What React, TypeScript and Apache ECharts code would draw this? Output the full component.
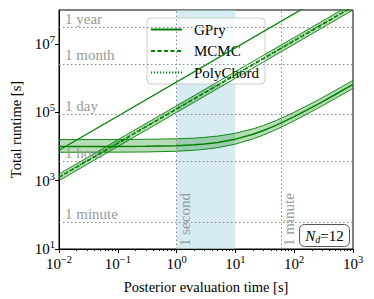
import React, { useEffect, useRef } from "react";
import * as echarts from "echarts";

const FONT = "Liberation Serif";
const GREEN = "#008000";
const BAND = "rgba(0,128,0,0.28)";

// tick positions
const xTicks = [1e-2, 1e-1, 1, 10, 100, 1000];
const yTicks = [10, 1e3, 1e5, 1e7];

// reference times
const refNames = ["1 minute", "1 hour", "1 day", "1 month", "1 year"];
const refSeconds = [60, 3600, 86400, 2.63e6, 3.15e7];
const vRefNames = ["1 second", "1 minute"];
const vRefSeconds = [1, 60];

// GPry curve
const evalTime = [0.01, 0.1, 0.3, 1, 2, 3, 5, 10, 20, 30, 50, 100, 200, 300, 500, 1000];
const gpryMid = [1.0e4, 1.007e4, 1.02e4, 1.065e4, 1.13e4, 1.195e4, 1.325e4, 1.65e4, 2.3e4, 2.95e4, 4.25e4, 7.5e4, 1.4e5, 2.05e5, 3.35e5, 6.6e5];
const gpryHigh = [1.6e4, 1.61e4, 1.63e4, 1.69e4, 1.77e4, 1.86e4, 2.03e4, 2.45e4, 3.3e4, 4.15e4, 5.85e4, 1.01e5, 1.86e5, 2.71e5, 4.41e5, 8.66e5];
const gpryLow = [6.8e3, 6.85e3, 6.95e3, 7.3e3, 7.8e3, 8.3e3, 9.3e3, 1.18e4, 1.68e4, 2.18e4, 3.18e4, 5.68e4, 1.07e5, 1.57e5, 2.57e5, 5.07e5];

// straight lines
const lineTime = [0.01, 1000];
const mcmcMid = [1.25e3, 1.25e8];
const mcmcLow = [1.0e3, 1.0e8];
const mcmcHigh = [1.57e3, 1.57e8];
const polyMid = [1.3e3, 1.3e8];
const topLine = [7.8e3, 7.8e8];

const zip = (xs: number[], ys: number[]) => xs.map((x, i) => [x, ys[i]]);

function powLabel(v: number) {
  const e = Math.round(Math.log10(v));
  const s = e < 0 ? "\u2212" + -e : String(e);
  return `{b|10}{s|${s}}`;
}
const richPow = {
  b: { fontSize: 15, fontFamily: FONT, color: "#000" },
  s: { fontSize: 10.5, fontFamily: FONT, color: "#000", padding: [0, 0, 9, 0] },
};

function bandSeries(xs: number[], lo: number[], hi: number[]) {
  return {
    type: "custom",
    coordinateSystem: "cartesian2d",
    clip: true,
    silent: true,
    z: 2,
    data: [[xs[0], lo[0]]],
    renderItem: (params: any, api: any) => {
      const up = xs.map((x, i) => api.coord([x, hi[i]]));
      const dn = xs.map((x, i) => api.coord([x, lo[i]])).reverse();
      return {
        type: "polygon",
        shape: { points: up.concat(dn) },
        style: { fill: BAND, stroke: "none" },
      };
    },
  };
}

function lineSeries(name: string | undefined, data: number[][], type: any, width: number, z = 4) {
  return {
    type: "line",
    name,
    data,
    showSymbol: false,
    symbol: "none",
    silent: true,
    z,
    lineStyle: { color: GREEN, width, type },
    itemStyle: { color: GREEN },
  };
}

export default function App() {
  const ref = useRef<HTMLDivElement>(null);
  useEffect(() => {
    const chart = echarts.init(ref.current!, null, { renderer: "svg" });
    const option: any = {
      animation: false,
      grid: { left: 57, top: 10, width: 296, height: 239, show: true, borderColor: "#000", borderWidth: 1, backgroundColor: "transparent" },
      legend: {
        data: ["GPry", "MCMC", "PolyChord"],
        orient: "vertical",
        left: 147,
        top: 18,
        padding: [4, 6, 4, 3],
        itemWidth: 31,
        itemHeight: 14,
        itemGap: 6.5,
        itemStyle: { opacity: 0 },
        backgroundColor: "rgba(255,255,255,0.8)",
        borderColor: "#ccc",
        borderWidth: 1,
        borderRadius: 4,
        textStyle: { fontFamily: FONT, fontSize: 15, color: "#000", padding: [0, 0, 0, 7] },
      },
      xAxis: [
        {
          type: "log",
          logBase: 10,
          min: 1e-2,
          max: 1e3,
          position: "bottom",
          name: "Posterior evaluation time [s]",
          nameLocation: "middle",
          nameGap: 30,
          nameTextStyle: { fontFamily: FONT, fontSize: 14.5, color: "#000" },
          axisLine: { show: true, lineStyle: { color: "#000", width: 1 } },
          axisTick: { show: true, customValues: xTicks, length: 4, lineStyle: { color: "#000" } },
          axisLabel: { customValues: xTicks, formatter: powLabel, rich: richPow, margin: 5 },
          splitLine: { show: false },
          minorTick: { show: false },
        },
        {
          type: "log",
          logBase: 10,
          min: 1e-2,
          max: 1e3,
          position: "bottom",
          axisLine: { show: false },
          axisTick: {
            show: true,
            length: 2,
            lineStyle: { color: "#000" },
            customValues: [2e-2, 3e-2, 4e-2, 5e-2, 6e-2, 7e-2, 8e-2, 9e-2, 2e-1, 3e-1, 4e-1, 5e-1, 6e-1, 7e-1, 8e-1, 9e-1, 2, 3, 4, 5, 6, 7, 8, 9, 20, 30, 40, 50, 60, 70, 80, 90, 200, 300, 400, 500, 600, 700, 800, 900],
          },
          axisLabel: { show: false },
          splitLine: { show: false },
        },
      ],
      yAxis: {
        type: "log",
        logBase: 10,
        min: 10,
        max: 1e8,
        name: "Total runtime [s]",
        nameLocation: "middle",
        nameGap: 36,
        nameTextStyle: { fontFamily: FONT, fontSize: 14.5, color: "#000" },
        axisLine: { show: true, lineStyle: { color: "#000", width: 1 } },
        axisTick: { show: true, customValues: yTicks, length: 4, lineStyle: { color: "#000" } },
        axisLabel: { customValues: yTicks, formatter: powLabel, rich: richPow, margin: 4 },
        splitLine: { show: false },
      },
      series: [
        {
          type: "line",
          name: "refs",
          data: [[1e-2, 10]],
          symbol: "none",
          silent: true,
          z: 1,
          lineStyle: { width: 0, opacity: 0 },
          markArea: {
            silent: true,
            itemStyle: { color: "rgba(173,216,230,0.5)" },
            data: [[{ xAxis: vRefSeconds[0] }, { xAxis: 10 }]],
          },
          markLine: {
            silent: true,
            symbol: "none",
            lineStyle: { color: "#888", type: [1.5, 2.5], width: 1 },
            data: [
              ...refSeconds.map((v, i) => ({
                yAxis: v,
                name: refNames[i],
                label: { show: true, position: "insideStartTop", formatter: "{b}", color: "#999", fontFamily: FONT, fontSize: 15, distance: [6, 1] },
              })),
              ...vRefSeconds.map((v, i) => ({
                xAxis: v,
                name: vRefNames[i],
                label: { show: false },
              })),
            ],
          },
        },
        bandSeries(evalTime, gpryLow, gpryHigh),
        bandSeries(lineTime, mcmcLow, mcmcHigh),
        lineSeries(undefined, zip(lineTime, topLine), "solid", 1.3),
        lineSeries(undefined, zip(lineTime, mcmcLow), "solid", 0.9),
        lineSeries(undefined, zip(lineTime, mcmcHigh), "solid", 0.9),
        lineSeries(undefined, zip(evalTime, gpryLow), "solid", 0.9),
        lineSeries(undefined, zip(evalTime, gpryHigh), "solid", 0.9),
        lineSeries("GPry", zip(evalTime, gpryMid), "solid", 1.5, 5),
        lineSeries("MCMC", zip(lineTime, mcmcMid), [4, 2.5], 1.5, 5),
        lineSeries("PolyChord", zip(lineTime, polyMid), [1.2, 1.8], 1.5, 5),
      ],
      graphic: [
        {
          type: "rect",
          shape: { x: 299.5, y: 224.5, width: 50, height: 22, r: 5 },
          style: { fill: "rgba(255,255,255,0.9)", stroke: "#555", lineWidth: 1 },
          z: 10,
        },
        {
          type: "text",
          x: 324.5,
          y: 236,
          z: 11,
          style: {
            text: "{i|N}{sub|d}{r|=12}",
            align: "center",
            verticalAlign: "middle",
            rich: {
              i: { fontFamily: FONT, fontStyle: "italic", fontSize: 15, fill: "#000" },
              sub: { fontFamily: FONT, fontStyle: "italic", fontSize: 10, fill: "#000", padding: [7, 0, 0, 0] },
              r: { fontFamily: FONT, fontSize: 15, fill: "#000" },
            },
          },
        },
      ],
    };
    chart.setOption(option);
    const yBottom = chart.convertToPixel({ yAxisIndex: 0 }, 10) as number;
    const vLabels = vRefSeconds.map((v, i) => {
      const px = chart.convertToPixel({ xAxisIndex: 0 }, v) as number;
      return {
        type: "text",
        id: "vlab" + i,
        x: px + 8,
        y: yBottom - 3,
        rotation: Math.PI / 2,
        z: 3,
        silent: true,
        style: { text: vRefNames[i], fill: "#999", fontFamily: FONT, fontSize: 15, align: "left", verticalAlign: "middle" },
      };
    });
    chart.setOption({ graphic: [option.graphic[0], option.graphic[1], ...vLabels] });
    return () => chart.dispose();
  }, []);
  return <div ref={ref} style={{ width: 374, height: 299, position: "absolute", left: 0, top: 0 }} />;
}
